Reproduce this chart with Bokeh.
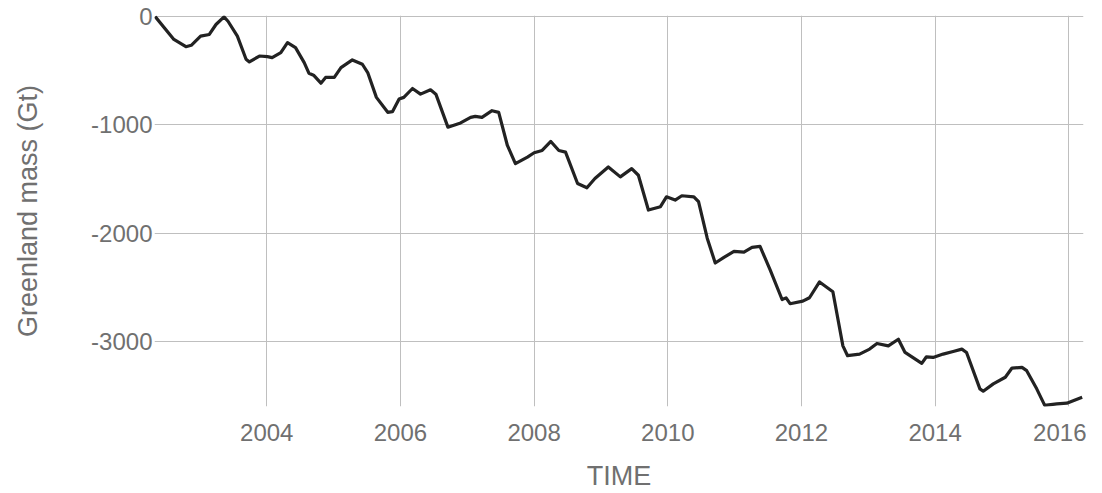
from bokeh.plotting import figure
from bokeh.models import Range1d, FixedTicker, ColumnDataSource
from bokeh.embed import file_html
from bokeh.resources import INLINE

years = [2002.33, 2002.61, 2002.79, 2002.87, 2003.01, 2003.14, 2003.24, 2003.36, 2003.42,
         2003.56, 2003.69, 2003.74, 2003.89, 2004.01, 2004.08, 2004.21, 2004.31, 2004.43,
         2004.56, 2004.63, 2004.70, 2004.81, 2004.88, 2005.01, 2005.11, 2005.28, 2005.43,
         2005.51, 2005.64, 2005.81, 2005.88, 2005.98, 2006.05, 2006.18, 2006.30, 2006.45,
         2006.53, 2006.71, 2006.90, 2007.05, 2007.12, 2007.22, 2007.37, 2007.47, 2007.60,
         2007.72, 2007.90, 2008.00, 2008.12, 2008.25, 2008.37, 2008.47, 2008.65, 2008.79,
         2008.91, 2009.11, 2009.29, 2009.46, 2009.56, 2009.71, 2009.89, 2009.98, 2010.11,
         2010.21, 2010.39, 2010.46, 2010.59, 2010.71, 2010.84, 2010.99, 2011.14, 2011.26,
         2011.38, 2011.53, 2011.71, 2011.77, 2011.83, 2012.02, 2012.12, 2012.27, 2012.47,
         2012.62, 2012.69, 2012.87, 2013.02, 2013.13, 2013.30, 2013.45, 2013.55, 2013.80,
         2013.87, 2013.97, 2014.12, 2014.27, 2014.40, 2014.47, 2014.67, 2014.72, 2014.87,
         2015.05, 2015.15, 2015.30, 2015.37, 2015.52, 2015.64, 2015.82, 2015.97, 2016.20]

mass = [0, -211, -278, -265, -181, -165, -73, -3, -43,
        -181, -394, -419, -364, -370, -379, -333, -241, -287,
        -425, -523, -541, -615, -562, -562, -471, -400, -440,
        -517, -746, -884, -878, -761, -746, -664, -716, -676,
        -716, -1021, -982, -930, -921, -930, -869, -884, -1190,
        -1358, -1297, -1257, -1236, -1153, -1236, -1251, -1541, -1581,
        -1495, -1388, -1480, -1404, -1465, -1786, -1755, -1664, -1694,
        -1654, -1664, -1709, -2046, -2275, -2223, -2168, -2174, -2131,
        -2122, -2336, -2612, -2597, -2651, -2627, -2596, -2450, -2541,
        -3040, -3131, -3116, -3070, -3018, -3040, -2979, -3101, -3202,
        -3141, -3147, -3116, -3092, -3070, -3101, -3437, -3459, -3391,
        -3330, -3245, -3239, -3269, -3437, -3590, -3575, -3569, -3514]

x_ticks = [2004, 2006, 2008, 2010, 2012, 2014, 2016]
y_ticks = [0, -1000, -2000, -3000]
y_tick_labels = ["0", "-1000", "-2000", "-3000"]

FONT = "Liberation Sans"
TXT = "#707070"

p = figure(width=1086, height=493, output_backend="svg", toolbar_location=None,
           x_range=Range1d(2002.32, 2016.22), y_range=Range1d(-3600, 10),
           min_border_left=154, min_border_right=3, min_border_top=15, min_border_bottom=86)
p.outline_line_color = None
p.background_fill_color = "white"

src = ColumnDataSource(dict(x=years, y=mass))
p.line("x", "y", source=src, line_color="#222222", line_width=3.2, line_join="round")

p.xaxis.ticker = FixedTicker(ticks=x_ticks)
p.yaxis.ticker = FixedTicker(ticks=y_ticks)
p.xgrid.ticker = FixedTicker(ticks=x_ticks)
p.ygrid.ticker = FixedTicker(ticks=y_ticks)
p.grid.grid_line_color = "#bfbfbf"
p.grid.grid_line_width = 1

for ax in (p.xaxis, p.yaxis):
    ax.axis_line_color = None
    ax.major_tick_line_color = None
    ax.minor_tick_line_color = None
    ax.major_tick_out = 0
    ax.major_tick_in = 0
    ax.major_label_text_font = FONT
    ax.major_label_text_font_size = "24px"
    ax.major_label_text_color = TXT
    ax.axis_label_text_font = FONT
    ax.axis_label_text_font_size = "27px"
    ax.axis_label_text_font_style = "normal"
    ax.axis_label_text_color = TXT

p.yaxis.major_label_overrides = {t: s for t, s in zip(y_ticks, y_tick_labels)}

p.xaxis.axis_label = "TIME"
p.yaxis.axis_label = "Greenland mass (Gt)"
p.xaxis.major_label_standoff = 17
p.yaxis.major_label_standoff = 2
p.xaxis.axis_label_standoff = 17
p.yaxis.axis_label_standoff = 45
p.xaxis.formatter.use_scientific = False

open("out.html", "w").write(file_html(p, INLINE))
